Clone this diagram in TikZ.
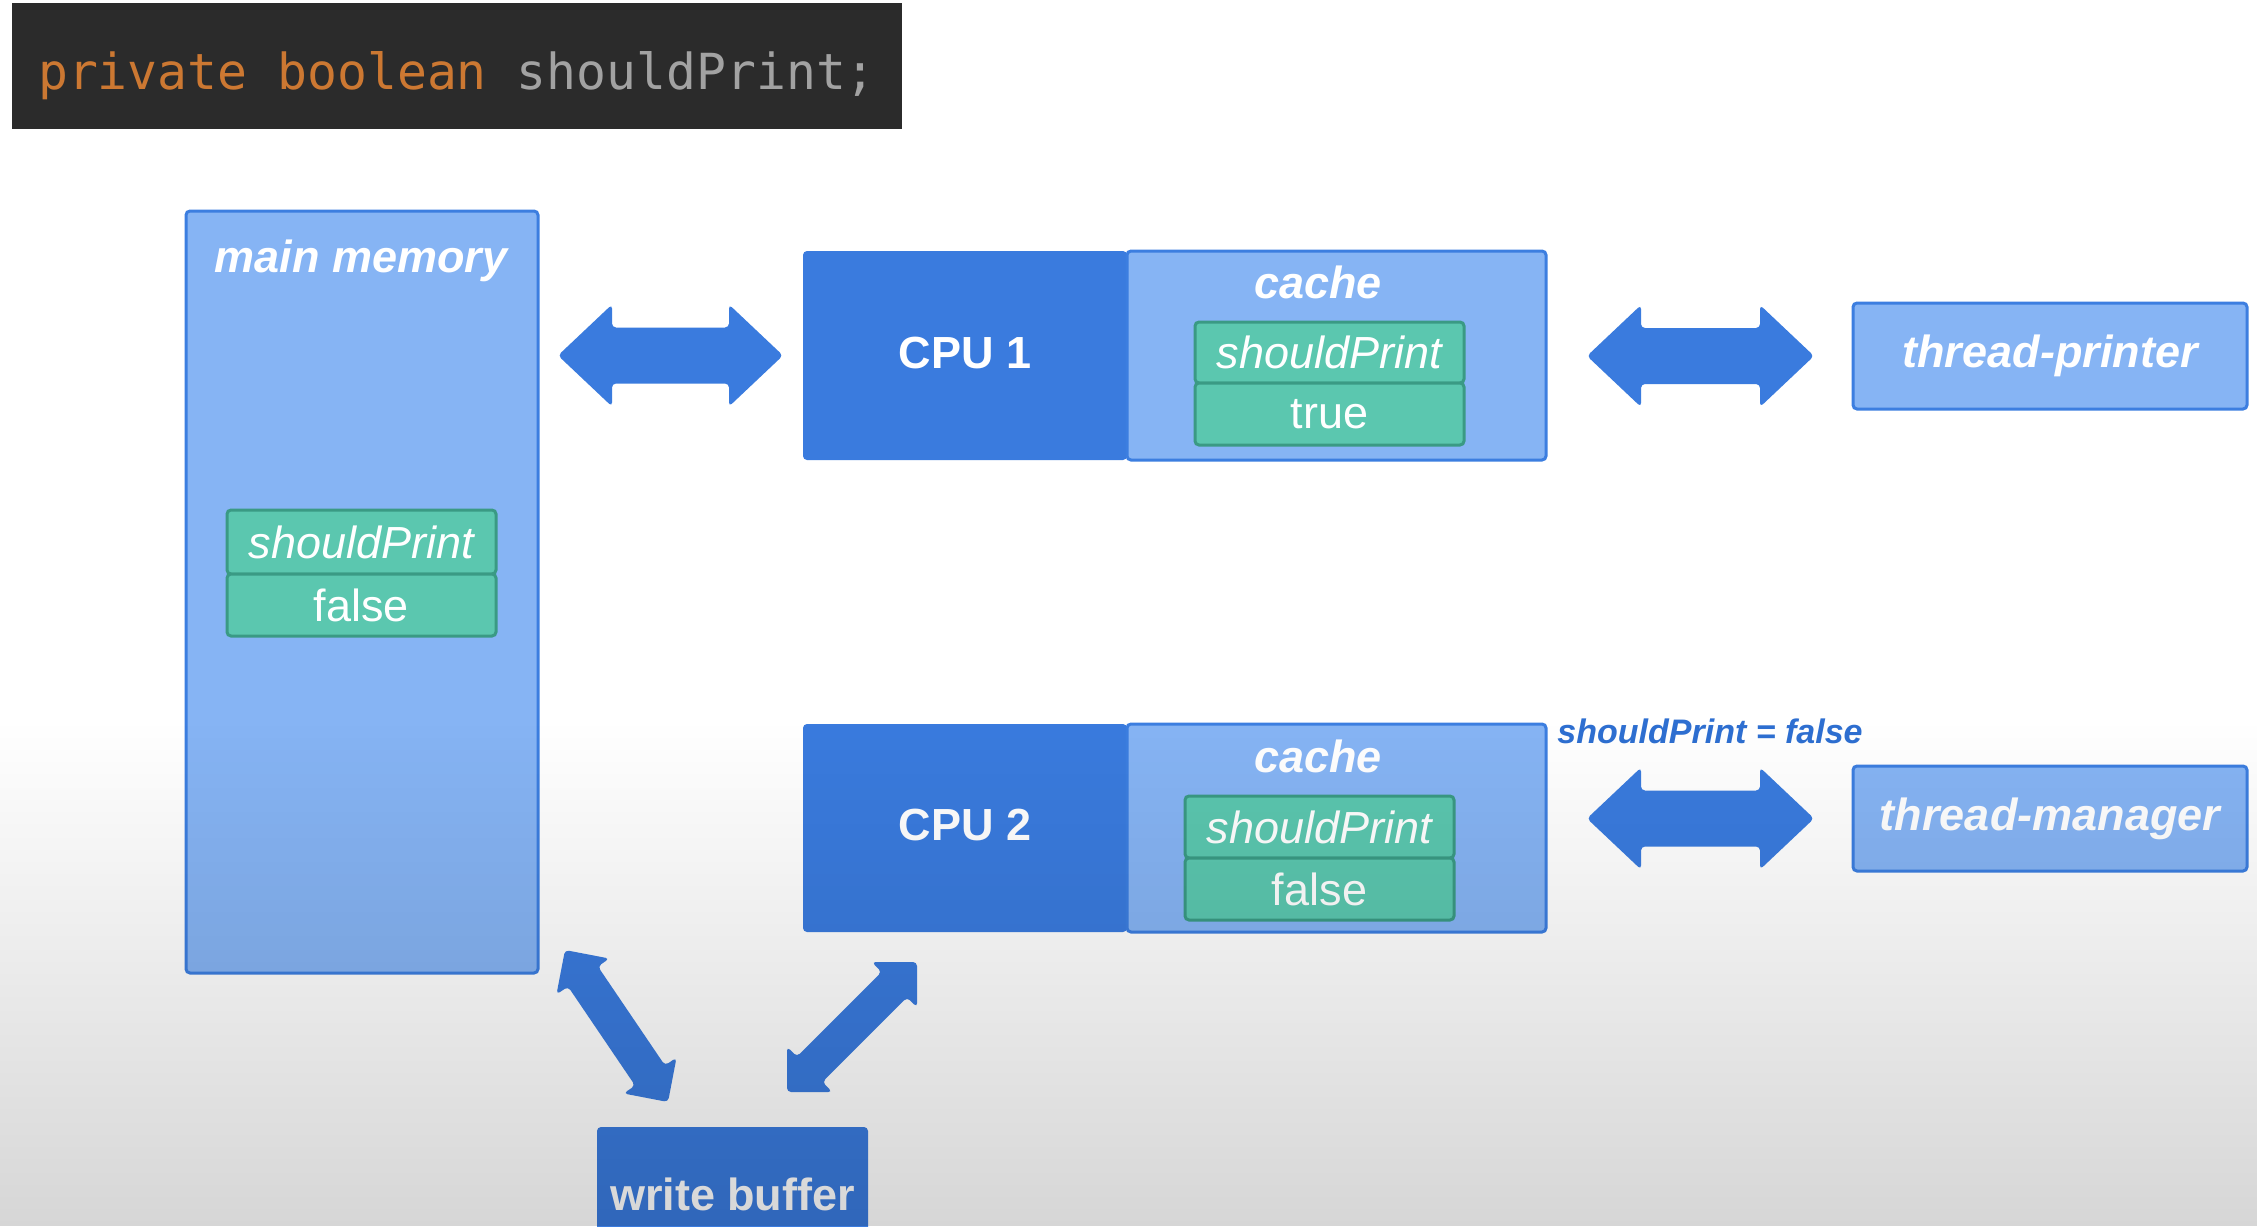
\documentclass[tikz,border=0pt]{standalone}
\usepackage{fontspec}
\setmainfont{Liberation Sans}
\newfontfamily\codefont{DejaVu Sans Mono}
\usetikzlibrary{calc,fadings}
\definecolor{lblue}{HTML}{86B4F4}
\definecolor{bord}{HTML}{3C7EE0}
\definecolor{dblue}{HTML}{3A7BDE}
\definecolor{grn}{HTML}{5BC7AF}
\definecolor{gbord}{HTML}{3A9A84}
\definecolor{lbltext}{HTML}{2E6FD1}
\definecolor{codebg}{HTML}{2B2B2B}
\definecolor{codeor}{HTML}{CC7832}
\definecolor{codegr}{HTML}{A2A2A2}
\tikzfading[name=fadeup, top color=transparent!100, bottom color=transparent!0]
\newcommand\dblarrow[5]{%
  \coordinate (dAp) at ($(#1)!#5!(#2)$);
  \coordinate (dBp) at ($(#2)!#5!(#1)$);
  \fill[dblue, rounded corners=4pt] (#1)
   -- ($(dAp)!#4!90:(#2)$) -- ($(dAp)!#3!90:(#2)$)
   -- ($(dBp)!#3!-90:(#1)$) -- ($(dBp)!#4!-90:(#1)$)
   -- (#2)
   -- ($(dBp)!#4!90:(#1)$) -- ($(dBp)!#3!90:(#1)$)
   -- ($(dAp)!#3!-90:(#2)$) -- ($(dAp)!#4!-90:(#2)$) -- cycle;}
\begin{document}
\begin{tikzpicture}[x=1pt,y=-1pt,
  box/.style={rectangle, inner sep=0pt, outer sep=0pt, rounded corners=4pt, line width=3pt},
  lbox/.style={box, fill=lblue, draw=bord},
  dbox/.style={box, fill=dblue, text=white, font=\fontsize{45}{54}\selectfont\bfseries},
  gbox/.style={box, fill=grn, draw=gbord, text=white, font=\fontsize{45}{54}\selectfont\itshape},
  gval/.style={gbox, font=\fontsize{45}{54}\selectfont},
  ttl/.style={inner sep=0pt, text=white, font=\fontsize{45}{54}\selectfont\bfseries\itshape},
  thr/.style={lbox, text=white, font=\fontsize{45}{54}\selectfont\bfseries\itshape}]
\useasboundingbox (0,0) rectangle (2266,1226);
\clip (0,0) rectangle (2266,1226);
\fill[white] (0,0) rectangle (2266,1226);
% code line
\node[fill=codebg, inner sep=0pt, minimum width=890pt, minimum height=126pt,
      text height=46pt, text depth=0pt] (code) at (457,66)
  {\codefont\fontsize{49.7}{60}\selectfont\color{codeor}private boolean \color{codegr}shouldPrint;};
% main memory
\node[lbox, minimum width=352pt, minimum height=762pt] (mm) at (362,592) {};
\node[ttl] (mmt) at (361,261) {main memory};
\node[gbox, minimum width=269pt, minimum height=64pt] (mmv) at (361.5,542) {shouldPrint};
\node[gval, minimum width=269pt, minimum height=62pt] (mmf) at (361.5,605) {false};
% CPU 1
\node[dbox, minimum width=324pt, minimum height=209pt] (cpu1) at (965,355.5) {};
\node[lbox, minimum width=419pt, minimum height=209pt] (cache1) at (1336.5,355.5) {};
\node[ttl, font=\fontsize{45}{54}\selectfont\bfseries] (cpu1t) at (965,353) {CPU 1};
\node[ttl] (c1t) at (1318,282) {cache};
\node[gbox, minimum width=269pt, minimum height=61pt] (c1v) at (1329.5,352.5) {shouldPrint};
\node[gval, minimum width=269pt, minimum height=62pt] (c1f) at (1329.5,414) {true};
% CPU 2
\node[dbox, minimum width=324pt, minimum height=208pt] (cpu2) at (965,828) {};
\node[lbox, minimum width=419pt, minimum height=208pt] (cache2) at (1336.5,828) {};
\node[ttl, font=\fontsize{45}{54}\selectfont\bfseries] (cpu2t) at (965,825) {CPU 2};
\node[ttl] (c2t) at (1318,756) {cache};
\node[gbox, minimum width=269pt, minimum height=62pt] (c2v) at (1319.5,827) {shouldPrint};
\node[gval, minimum width=269pt, minimum height=62pt] (c2f) at (1319.5,889) {false};
% threads
\node[thr, minimum width=394pt, minimum height=106pt] (tp) at (2050,356) {thread-printer};
\node[thr, minimum width=394pt, minimum height=105pt] (tm) at (2050,818.5) {thread-manager};
\node[inner sep=0pt, text=lbltext, font=\fontsize{34}{40}\selectfont\bfseries\itshape] (lbl) at (1710,731) {shouldPrint = false};
% write buffer
\node[box, fill=dblue, minimum width=271pt, minimum height=134pt, text=white,
      font=\fontsize{45}{54}\selectfont\bfseries] (wb) at (732.5,1194) {write buffer};
% arrows
\coordinate (a1s) at ($(mm.east |- cpu1.west)+(20,0)$);
\coordinate (a1e) at ($(cpu1.west)+(-20,0)$);
\dblarrow{a1s}{a1e}{28pt}{51pt}{54pt}
\coordinate (a2s) at ($(cache1.east |- tp.west)+(41,0)$);
\coordinate (a2e) at ($(tp.west)+(-39,0)$);
\dblarrow{a2s}{a2e}{28pt}{51pt}{54pt}
\coordinate (a3s) at ($(cache2.east |- tm.west)+(41,0)$);
\coordinate (a3e) at ($(tm.west)+(-39,0)$);
\dblarrow{a3s}{a3e}{28pt}{51pt}{54pt}
\coordinate (a4s) at ($(mm.south east)+(27,-23)$);
\coordinate (a4e) at ($(wb.north west)+(71,-25)$);
\dblarrow{a4s}{a4e}{18pt}{32pt}{32pt}
\coordinate (a5s) at ($(cpu2.south west)+(114,30)$);
\coordinate (a5e) at ($(wb.north east)+(-81,-35)$);
\dblarrow{a5s}{a5e}{18pt}{32pt}{32pt}
% bottom shading
\fill[black, opacity=0.16, path fading=fadeup] (0,720) rectangle (2266,1226);
\end{tikzpicture}
\end{document}
